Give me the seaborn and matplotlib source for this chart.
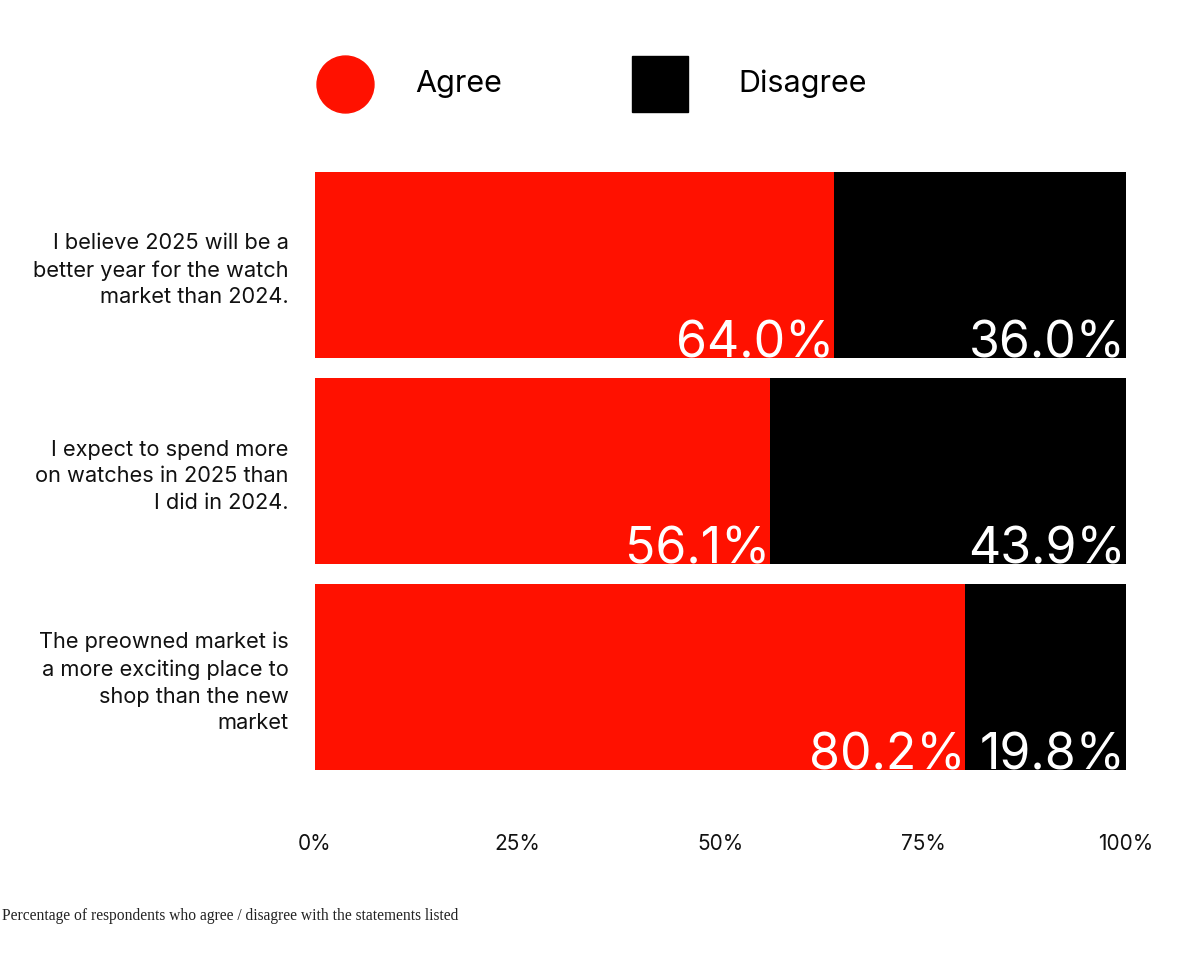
import matplotlib
matplotlib.use("Agg")
import matplotlib.pyplot as plt
from matplotlib.lines import Line2D
import numpy as np
import pandas as pd
import seaborn as sns

statements = [
    "I believe 2025 will be a\nbetter year for the watch\nmarket than 2024.",
    "I expect to spend more\non watches in 2025 than\nI did in 2024.",
    "The preowned market is\na more exciting place to\nshop than the new\nmarket",
]
agree = [64.0, 56.1, 80.2]
disagree = [36.0, 43.9, 19.8]
ticks = [0, 25, 50, 75, 100]
tick_labels = ["0%", "25%", "50%", "75%", "100%"]

RED = "#ff1100"
BLACK = "#000000"

sns.set_theme(style="white")
plt.rcParams["font.family"] = ["Inter", "DejaVu Sans"]

df = pd.DataFrame({"statement": statements, "agree": agree, "disagree": disagree})
df["total"] = df["agree"] + df["disagree"]

fig = plt.figure(figsize=(12, 9.56), dpi=100)
ax = fig.add_axes([315 / 1200, 1 - 770 / 956, 811 / 1200, 598 / 956])

sns.barplot(data=df, y="statement", x="total", color=BLACK, width=0.9,
            saturation=1, orient="h", linewidth=0, ax=ax)
sns.barplot(data=df, y="statement", x="agree", color=RED, width=0.9,
            saturation=1, orient="h", linewidth=0, ax=ax)

ax.set_xlim(0, 100)
ax.set_ylim(2.45, -0.45)
ax.set_xlabel("")
ax.set_ylabel("")
ax.set_xticks(ticks)
ax.set_xticklabels(tick_labels, fontsize=15, color="#111111")
ax.tick_params(axis="x", length=0, pad=46)
ax.tick_params(axis="y", length=0, pad=19)
for lab in ax.get_yticklabels():
    lab.set_fontsize(15.7)
    lab.set_color("#111111")
    lab.set_multialignment("right")
    lab.set_linespacing(1.42)
sns.despine(ax=ax, left=True, bottom=True)

# value labels, bottom-right of each segment
for i, (a, d) in enumerate(zip(agree, disagree)):
    ax.text(a, i + 0.45, f"{a:.1f}%", ha="right", va="baseline",
            color="white", fontsize=36)
    ax.text(a + d, i + 0.45, f"{d:.1f}%", ha="right", va="baseline",
            color="white", fontsize=36)

# legend
fig.add_artist(Line2D([345 / 1200], [1 - 84 / 956], marker="o", markersize=41,
                      color=RED, linestyle="", transform=fig.transFigure))
fig.add_artist(Line2D([660 / 1200], [1 - 84 / 956], marker="s", markersize=40,
                      color=BLACK, linestyle="", transform=fig.transFigure))
fig.text(415 / 1200, 1 - 84 / 956, "Agree", fontsize=22, va="center", ha="left",
         color="black")
fig.text(738 / 1200, 1 - 84 / 956, "Disagree", fontsize=22, va="center", ha="left",
         color="black")

fig.text(2 / 1200, 1 - 916 / 956,
         "Percentage of respondents who agree / disagree with the statements listed",
         fontsize=11.2, family=["Liberation Serif", "DejaVu Serif"], va="center",
         color="#222222")

fig.savefig("out.png", dpi=100)
